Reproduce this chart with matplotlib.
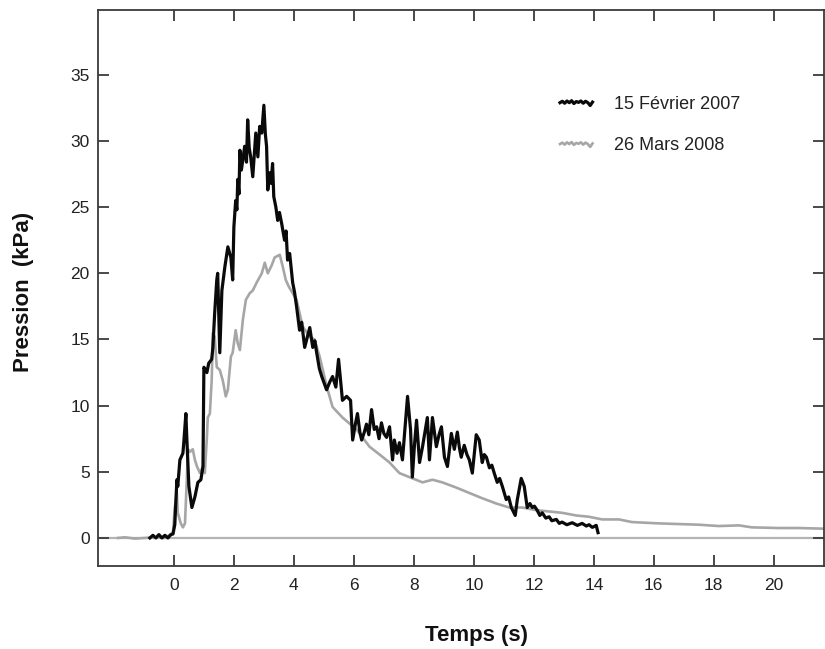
import numpy as np
import matplotlib
matplotlib.use("Agg")
import matplotlib.pyplot as plt
from matplotlib.lines import Line2D
from matplotlib.legend_handler import HandlerLine2D

plt.rcParams['font.family'] = ['Liberation Sans', 'DejaVu Sans']

# ---- data ----
t_2007 = [-0.80, -0.70, -0.60, -0.50, -0.40, -0.30, -0.20, -0.10, -0.03, 0.03, 0.10, 0.13, 0.20, 0.30,
          0.33, 0.40, 0.43, 0.50, 0.60, 0.70, 0.80, 0.90, 0.97, 1.00, 1.10, 1.16, 1.26, 1.30, 1.36,
          1.43, 1.46, 1.53, 1.60, 1.70, 1.80, 1.90, 1.96, 2.00, 2.06, 2.10, 2.13, 2.17, 2.20, 2.25,
          2.30, 2.36, 2.42, 2.46, 2.51, 2.56, 2.63, 2.68, 2.73, 2.80, 2.86, 2.93, 3.00, 3.05, 3.09,
          3.13, 3.19, 3.24, 3.29, 3.33, 3.40, 3.46, 3.52, 3.59, 3.69, 3.74, 3.79, 3.86, 3.96, 4.02,
          4.09, 4.19, 4.26, 4.36, 4.45, 4.53, 4.63, 4.70, 4.76, 4.85, 4.93, 5.09, 5.20, 5.29, 5.40,
          5.49, 5.62, 5.76, 5.89, 5.96, 6.05, 6.12, 6.20, 6.26, 6.35, 6.42, 6.50, 6.59, 6.68, 6.76,
          6.84, 6.92, 7.00, 7.09, 7.19, 7.29, 7.35, 7.44, 7.52, 7.62, 7.79, 7.89, 7.95, 8.02, 8.09,
          8.19, 8.29, 8.37, 8.45, 8.52, 8.62, 8.75, 8.84, 8.92, 9.02, 9.12, 9.25, 9.35, 9.45, 9.52,
          9.58, 9.68, 9.77, 9.85, 9.95, 10.08, 10.18, 10.28, 10.35, 10.42, 10.52, 10.60, 10.68,
          10.78, 10.86, 10.95, 11.08, 11.16, 11.25, 11.38, 11.45, 11.58, 11.68, 11.78, 11.87, 11.95,
          12.02, 12.11, 12.20, 12.28, 12.40, 12.51, 12.60, 12.75, 12.85, 12.94, 13.10, 13.28,
          13.45, 13.61, 13.75, 13.84, 13.95, 14.08, 14.14]
p_2007 = [0.0, 0.2, 0.0, 0.25, 0.0, 0.2, 0.0, 0.25, 0.3, 1.0, 4.4, 3.9, 5.9, 6.4,
          7.2, 9.4, 7.6, 3.9, 2.3, 3.1, 4.2, 4.4, 5.4, 12.9, 12.5, 13.2, 13.5, 14.4, 17.0,
          19.5, 20.0, 14.0, 18.7, 20.5, 22.0, 21.2, 19.5, 23.5, 25.5, 24.8, 27.1, 26.0, 29.3, 27.8,
          28.6, 29.6, 28.4, 31.6, 29.5, 28.8, 27.3, 29.0, 30.6, 28.8, 31.1, 30.6, 32.7, 30.5, 29.6,
          26.3, 27.6, 26.8, 28.3, 25.8, 25.0, 24.0, 24.6, 23.8, 22.5, 23.2, 21.0, 21.5, 19.3, 18.6,
          17.5, 15.7, 16.3, 14.4, 15.2, 15.9, 14.4, 14.9, 14.0, 12.8, 12.2, 11.2, 11.8, 12.2, 11.4,
          13.5, 10.4, 10.7, 10.4, 7.4, 8.6, 9.4, 8.0, 7.4, 8.0, 8.6, 7.8, 9.7, 8.2, 8.4,
          7.5, 8.7, 7.9, 7.6, 8.4, 5.9, 7.4, 6.4, 7.2, 5.9, 10.7, 8.2, 4.6, 7.0, 8.9,
          5.7, 6.9, 8.0, 9.1, 5.9, 9.1, 6.9, 7.8, 8.4, 6.1, 5.4, 7.9, 6.7, 8.0, 6.8,
          6.1, 7.0, 6.3, 5.9, 4.9, 7.8, 7.4, 5.7, 6.3, 6.1, 5.3, 5.5, 4.9,
          4.2, 4.5, 3.9, 2.9, 3.1, 2.3, 1.7, 2.9, 4.5, 3.9, 2.3, 2.6, 2.3,
          2.4, 2.1, 1.7, 1.9, 1.5, 1.6, 1.3, 1.4, 1.1, 1.2, 1.0, 1.15,
          0.95, 1.1, 0.9, 1.0, 0.8, 0.95, 0.4]

t_2008 = [-1.86, -1.63, -1.30, -0.97, -0.63, -0.30, -0.03, 0.03, 0.10, 0.13, 0.23, 0.30, 0.37,
          0.43, 0.47, 0.53, 0.63, 0.70, 0.77, 0.87, 0.97, 1.03, 1.10, 1.13, 1.20, 1.26, 1.30,
          1.36, 1.43, 1.53, 1.63, 1.73, 1.80, 1.90, 1.96, 2.06, 2.13, 2.20, 2.30, 2.40, 2.53,
          2.63, 2.76, 2.93, 3.03, 3.13, 3.26, 3.36, 3.53, 3.63, 3.73, 3.83, 3.96, 4.09, 4.29,
          4.53, 4.69, 4.86, 5.09, 5.29, 5.62, 6.09, 6.52, 6.86, 7.19, 7.52, 7.85, 8.29, 8.62,
          8.95, 9.42, 9.85, 10.28, 10.75, 11.18, 11.61, 12.08, 12.51, 12.94, 13.41, 13.84,
          14.28, 14.84, 15.27, 16.17, 16.84, 17.50, 18.17, 18.84, 19.27, 20.17, 20.83, 21.66]
p_2008 = [0.0, 0.05, -0.05, 0.0, 0.05, 0.0, 0.4, 2.3, 3.4, 1.9, 1.1, 0.8, 1.1,
          4.4, 6.7, 6.5, 6.7, 5.9, 5.4, 4.9, 5.4, 4.9, 7.6, 9.1, 9.4, 11.9, 15.5,
          15.2, 12.9, 12.7, 11.9, 10.7, 11.2, 13.7, 14.0, 15.7, 14.7, 14.2, 16.5, 18.0, 18.5,
          18.7, 19.3, 20.0, 20.8, 20.0, 20.6, 21.2, 21.4, 20.5, 19.5, 19.0, 18.5, 18.0, 16.0,
          15.2, 15.0, 13.7, 11.5, 9.9, 9.1, 8.2, 6.9, 6.3, 5.7, 4.9, 4.6, 4.2, 4.4,
          4.2, 3.8, 3.4, 3.0, 2.6, 2.3, 2.3, 2.1, 2.0, 1.9, 1.7, 1.6,
          1.4, 1.4, 1.2, 1.1, 1.05, 1.0, 0.9, 0.95, 0.8, 0.75, 0.75, 0.7]

labels = ["15 Février 2007", "26 Mars 2008"]
x_ticks = [0, 2, 4, 6, 8, 10, 12, 14, 16, 18, 20]
y_ticks = [0, 5, 10, 15, 20, 25, 30, 35]

BLACK = "#0a0a0a"
GRAY = "#a6a6a6"
AXC = "#3a3a3a"


class WigglyHandler(HandlerLine2D):
    offs = [0.0, 0.25, -0.1, 0.3, 0.0, 0.35, -0.15, 0.2, 0.05, 0.3, -0.1, 0.25, 0.0, -0.5, 0.1]

    def create_artists(self, legend, orig_handle, xdescent, ydescent, width, height,
                       fontsize, trans):
        n = len(self.offs)
        xs = np.linspace(-xdescent, width - xdescent, n)
        yc = (height - ydescent) / 2.0
        ys = yc + np.array(self.offs) * height * 0.45
        ln = Line2D(xs, ys, color=orig_handle.get_color(), lw=orig_handle.get_linewidth())
        ln.set_transform(trans)
        return [ln]


fig = plt.figure(figsize=(8.25, 6.49), dpi=100)
ax = fig.add_axes([98 / 825, 1 - 566 / 649, 1 - 98 / 825 - 0.001, (566 - 10) / 649])

ax.axhline(0, color="#b4b4b4", lw=1.6, zorder=1)
l2, = ax.plot(t_2008, p_2008, color=GRAY, lw=1.9, zorder=2, label=labels[1])
l1, = ax.plot(t_2007, p_2007, color=BLACK, lw=2.3, zorder=3, label=labels[0])

ax.set_xlim(-2.53, 21.68)
ax.set_ylim(-2.12, 39.9)
ax.set_xticks(x_ticks)
ax.set_yticks(y_ticks)

for s in ax.spines.values():
    s.set_color(AXC)
    s.set_linewidth(1.3)

ax.tick_params(axis='both', direction='in', length=8, width=1.3, color=AXC,
               labelsize=12.5, labelcolor="#222222", top=True, right=True)
ax.tick_params(axis='x', pad=9)
ax.tick_params(axis='y', pad=6)

fig.text(24 / 825, 1 - 292 / 649, "Pression  (kPa)", rotation=90, ha='center', va='center',
         fontsize=16, fontweight='bold', color="#111111")
fig.text(477 / 825, 1 - 636 / 649, "Temps (s)", ha='center', va='center',
         fontsize=16, fontweight='bold', color="#111111")

leg = ax.legend(handles=[l1, l2], labels=labels, loc='upper left',
                bbox_to_anchor=(560 / 825, 1 - 96 / 649), bbox_transform=fig.transFigure,
                frameon=False, fontsize=13, handlelength=1.8, handletextpad=1.2,
                labelspacing=1.35, borderpad=0, borderaxespad=0,
                handler_map={Line2D: WigglyHandler()})
for txt in leg.get_texts():
    txt.set_color("#222222")

fig.savefig("out.png", dpi=100)
